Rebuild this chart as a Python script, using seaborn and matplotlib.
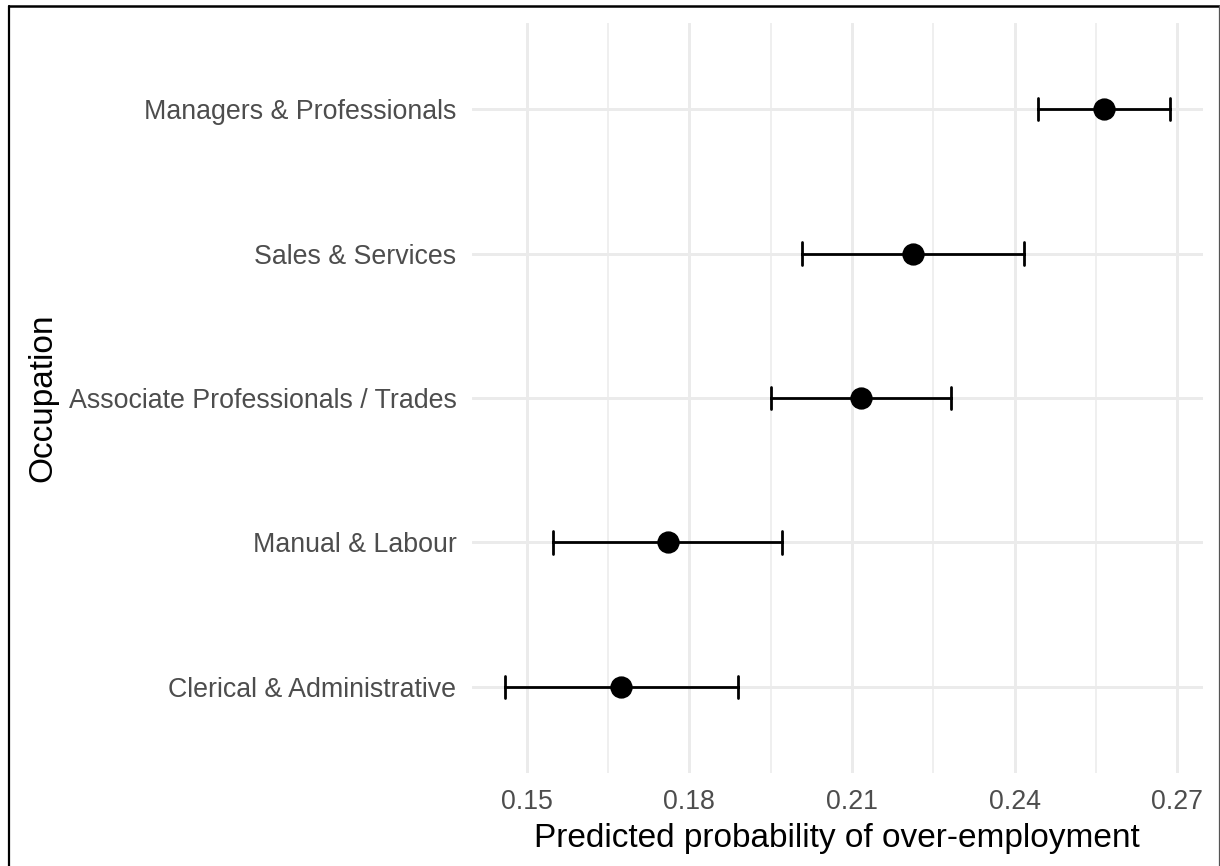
import matplotlib
matplotlib.use("Agg")
import matplotlib.pyplot as plt
from matplotlib.lines import Line2D
from matplotlib.ticker import MultipleLocator, FormatStrFormatter
import numpy as np
import pandas as pd
import seaborn as sns

# Predicted probabilities of over-employment by occupation, with 95% CIs
occupation = [
    "Managers & Professionals",
    "Sales & Services",
    "Associate Professionals / Trades",
    "Manual & Labour",
    "Clerical & Administrative",
]
estimate = [0.2564, 0.2212, 0.2116, 0.1760, 0.1674]
ci_low = [0.2443, 0.2008, 0.1950, 0.1548, 0.1460]
ci_high = [0.2686, 0.2418, 0.2282, 0.1971, 0.1889]

# Long form: each occupation carries its lower bound, estimate and upper bound;
# the median gives the point and the min/max give the interval.
long = pd.DataFrame({
    "Occupation": occupation * 3,
    "prob": ci_low + estimate + ci_high,
})

sns.set_theme(style="whitegrid")
plt.rcParams["font.family"] = ["Liberation Sans", "DejaVu Sans"]

fig = plt.figure(figsize=(12.2, 8.66), dpi=100)
ax = fig.add_axes([471.7 / 1220, 1 - 773.3 / 866, (1203 - 471.7) / 1220, (773.3 - 22.7) / 866])

sns.pointplot(
    data=long, x="prob", y="Occupation", order=occupation,
    estimator="median", errorbar=lambda v: (v.min(), v.max()),
    color="black", linestyle="none", markers="o", markersize=14,
    capsize=0.155, err_kws={"linewidth": 2.0}, ax=ax,
)

# Axis limits with a 5% pad on the continuous axis, 0.6 on the discrete one
lo, hi = min(ci_low), max(ci_high)
pad = 0.05 * (hi - lo)
ax.set_xlim(lo - pad, hi + pad)
ax.set_ylim(len(occupation) - 0.4, -0.6)

ax.xaxis.set_major_locator(MultipleLocator(0.03))
ax.xaxis.set_minor_locator(MultipleLocator(0.015))
ax.xaxis.set_major_formatter(FormatStrFormatter("%.2f"))

ax.set_facecolor("white")
for s in ax.spines.values():
    s.set_visible(False)
ax.grid(which="major", axis="both", color="#EBEBEB", linewidth=2.1)
ax.grid(which="minor", axis="x", color="#EBEBEB", linewidth=1.1)
ax.set_axisbelow(True)

ax.tick_params(axis="both", which="both", length=0, labelsize=19.25, labelcolor="#4D4D4D")
ax.tick_params(axis="x", pad=11)
ax.tick_params(axis="y", pad=11)

ax.set_xlabel("Predicted probability of over-employment", fontsize=24, color="black", labelpad=6)
ax.set_ylabel("Occupation", fontsize=24, color="black", labelpad=7)

# Outer frame around the figure
fig.add_artist(Line2D([9 / 1220, 9 / 1220], [0, 1 - 6 / 866], transform=fig.transFigure,
                      color="black", linewidth=1.6))
fig.add_artist(Line2D([9 / 1220, 1219 / 1220], [1 - 6 / 866, 1 - 6 / 866], transform=fig.transFigure,
                      color="black", linewidth=1.8))
fig.add_artist(Line2D([1219 / 1220, 1219 / 1220], [0, 1 - 6 / 866], transform=fig.transFigure,
                      color="#555555", linewidth=0.9))

fig.savefig("out.png", dpi=100)
